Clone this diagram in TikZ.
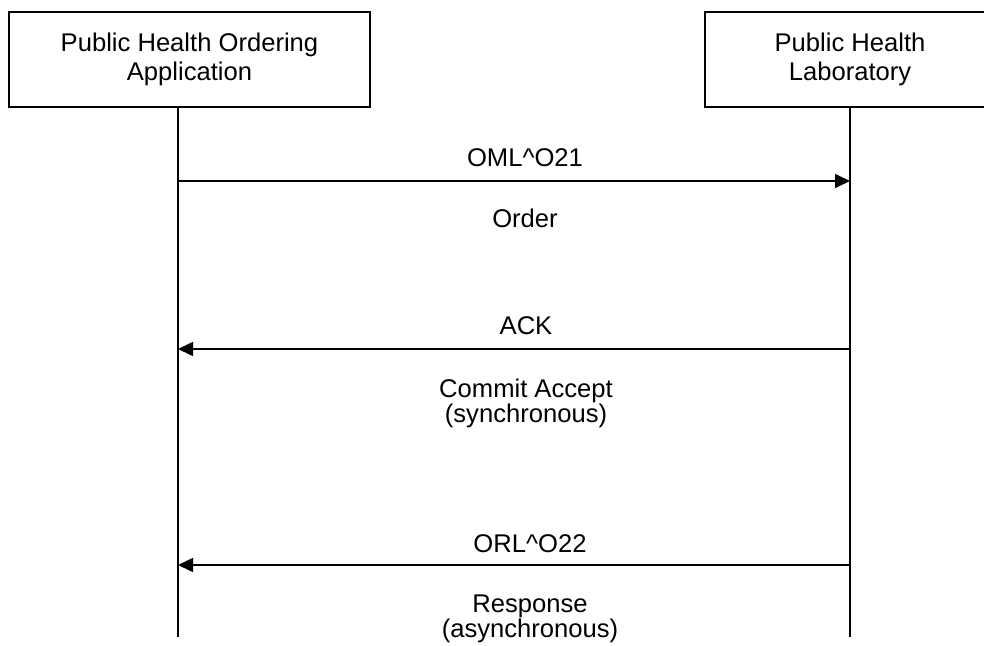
\documentclass[tikz,border=0pt]{standalone}
\usepackage{fontspec}
\setmainfont{Liberation Sans}
\usetikzlibrary{arrows.meta}
\begin{document}
\begin{tikzpicture}[x=1pt,y=-1pt,
  actor/.style={draw=black, line width=1.6pt, fill=white, inner sep=0pt, align=center,
    font=\fontsize{25.6}{29}\selectfont},
  life/.style={line width=1.6pt},
  msg/.style={line width=1.6pt, -{Triangle[length=15pt,width=14pt]}},
  lbl/.style={anchor=base, align=center, inner sep=0pt, font=\fontsize{25.6}{25}\selectfont}]
\clip (0,0) rectangle (984,645);
\fill[white] (0,0) rectangle (984,645);
% actors
\node[actor, minimum width=361pt, minimum height=95pt] (A) at (189.5,59.5) {Public Health Ordering\\Application};
\node[actor, minimum width=290pt, minimum height=95pt] (B) at (850,59.5) {Public Health\\Laboratory};
% lifelines
\coordinate (A0) at (178,107);
\coordinate (A1) at (178,637);
\coordinate (B0) at (850,107);
\coordinate (B1) at (850,637);
\draw[life] (A0) -- (A1);
\draw[life] (B0) -- (B1);
% message points
\coordinate (a1) at (178,181);
\coordinate (b1) at (850,181);
\coordinate (a2) at (178,349);
\coordinate (b2) at (850,349);
\coordinate (a3) at (178,565);
\coordinate (b3) at (850,565);
\draw[msg] (a1) -- (b1);
\draw[msg] (b2) -- (a2);
\draw[msg] (b3) -- (a3);
% labels (base anchor = baseline of the last line)
\node[lbl] (m1) at (525,166) {OML\^{}O21};
\node[lbl] (d1) at (525,227) {Order};
\node[lbl] (m2) at (526,334) {ACK};
\node[lbl] (d2) at (526,422) {Commit Accept\\(synchronous)};
\node[lbl] (m3) at (530,552) {ORL\^{}O22};
\node[lbl] (d3) at (530,637) {Response\\(asynchronous)};
\end{tikzpicture}
\end{document}
